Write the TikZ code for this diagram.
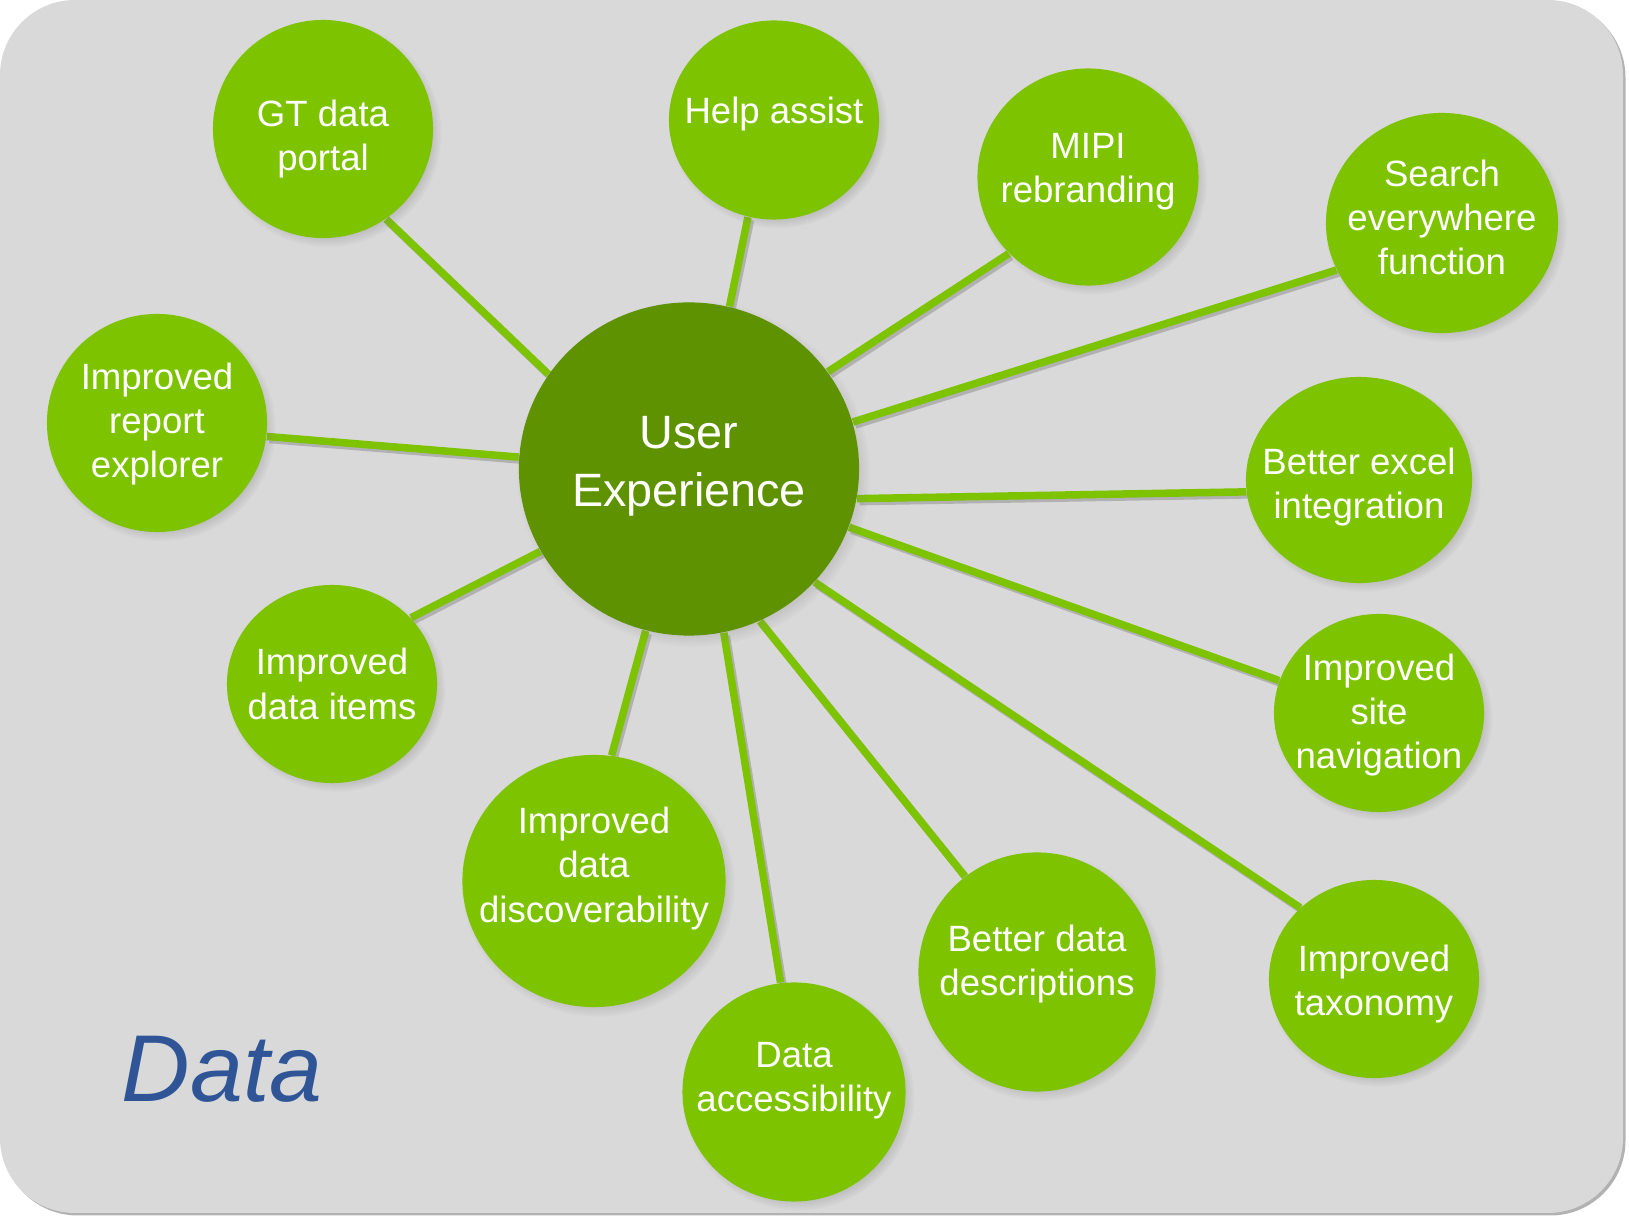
\documentclass[tikz,border=0pt]{standalone}
\usepackage{fontspec}
\setmainfont{Liberation Sans}
\usetikzlibrary{shapes.geometric, shadows, backgrounds}
\definecolor{leaf}{RGB}{125,195,0}
\definecolor{moss}{RGB}{94,146,0}
\definecolor{panel}{RGB}{217,217,217}
\definecolor{inkblue}{RGB}{47,85,151}

\begin{document}
\begin{tikzpicture}[x = .01cm, y = -.01cm,
  bubble/.style = {ellipse, fill = leaf, inner sep = 0,
    circular drop shadow = {shadow xshift = .04cm, shadow yshift = -.045cm,
      shadow scale = 1.04, opacity = .45}},
  tag/.style = {text = white, align = center, inner sep = 0,
    font = \fontsize{10.4}{12.6}\selectfont},
  spoke/.style = {draw = leaf, line width = .075cm,
    preaction = {draw = black, opacity = .18, line width = .075cm,
      transform canvas = {shift = {(.025cm, -.03cm)}}}}]
  \useasboundingbox (0, 0) rectangle (1629, 1216);

  \node[bubble, fill = moss, minimum width = 3.4cm, minimum height = 3.33cm,
  label = {[tag, name = ux-t, yshift = .03cm,
  font = \fontsize{13.3}{16.6}\selectfont]center:User\\Experience}]
  (ux) at (689, 469) {};

  \node[bubble, minimum width = 2.2cm, minimum height = 2.18cm,
  label = {[tag, name = gt-t, yshift = -.1cm]center:GT data\\portal}]
  (gt) at (323, 129) {};
  \node[bubble, minimum width = 2.1cm, minimum height = 1.99cm,
  label = {[tag, name = help-t, yshift = .06cm]center:Help assist}]
  (help) at (774, 120) {};
  \node[bubble, minimum width = 2.21cm, minimum height = 2.17cm,
  label = {[tag, name = mipi-t, yshift = .05cm]center:MIPI\\rebranding}]
  (mipi) at (1088, 177) {};
  \node[bubble, minimum width = 2.32cm, minimum height = 2.2cm,
  label = {[tag, name = search-t, yshift = .055cm]center:Search\\everywhere\\function}]
  (search) at (1442, 223) {};
  \node[bubble, minimum width = 2.2cm, minimum height = 2.18cm,
  label = {[tag, name = report-t, yshift = -.01cm]center:Improved\\report\\explorer}]
  (report) at (157, 423) {};
  \node[bubble, minimum width = 2.26cm, minimum height = 2.06cm,
  label = {[tag, name = excel-t, yshift = -.07cm]center:Better excel\\integration}]
  (excel) at (1359, 480) {};
  \node[bubble, minimum width = 2.1cm, minimum height = 1.98cm,
  label = {[tag, name = items-t]center:Improved\\data items}]
  (items) at (332, 684) {};
  \node[bubble, minimum width = 2.1cm, minimum height = 1.98cm,
  label = {[tag, name = site-t, yshift = -.02cm]center:Improved\\site\\navigation}]
  (site) at (1379, 713) {};
  \node[bubble, minimum width = 2.63cm, minimum height = 2.52cm,
  label = {[tag, name = disc-t, yshift = .125cm]center:Improved\\data\\discoverability}]
  (disc) at (594, 881) {};
  \node[bubble, minimum width = 2.23cm, minimum height = 2.19cm,
  label = {[tag, name = acc-t, yshift = .11cm]center:Data\\accessibility}]
  (acc) at (794, 1092) {};
  \node[bubble, minimum width = 2.37cm, minimum height = 2.39cm,
  label = {[tag, name = desc-t, yshift = .08cm]center:Better data\\descriptions}]
  (desc) at (1037, 972) {};
  \node[bubble, minimum width = 2.1cm, minimum height = 1.98cm,
  label = {[tag, name = tax-t, yshift = -.05cm]center:Improved\\taxonomy}]
  (tax) at (1374, 979) {};

  \node[anchor = base west, inner sep = 0, text = inkblue,
  font = \fontsize{27}{32}\selectfont\itshape] (data) at (121, 1102) {Data};

  \begin{scope}[on background layer]
    \fill[panel, rounded corners = .75cm,
    drop shadow = {shadow xshift = .025cm, shadow yshift = -.025cm,
      fill = black, opacity = .3}] (0, 0) rectangle (1623, 1213);
    % spokes from the core
    \draw[spoke] (ux.146) -- (gt.305);
    \draw[spoke] (ux.76) -- (help.255);
    \draw[spoke] (ux.35) -- (mipi.224);
    \draw[spoke] (ux.16) -- (search.204);
    \draw[spoke] (ux.176) -- (report.353);
    \draw[spoke] (ux.350) -- (excel.186);
    \draw[spoke] (ux.209) -- (items.40);
    \draw[spoke] (ux.340) -- (site.162);
    \draw[spoke] (ux.255) -- (disc.82);
    \draw[spoke] (ux.282) -- (acc.97);
    \draw[spoke] (ux.295) -- (desc.127);
    \draw[spoke] (ux.318) -- (tax.136);
  \end{scope}
\end{tikzpicture}
\end{document}
